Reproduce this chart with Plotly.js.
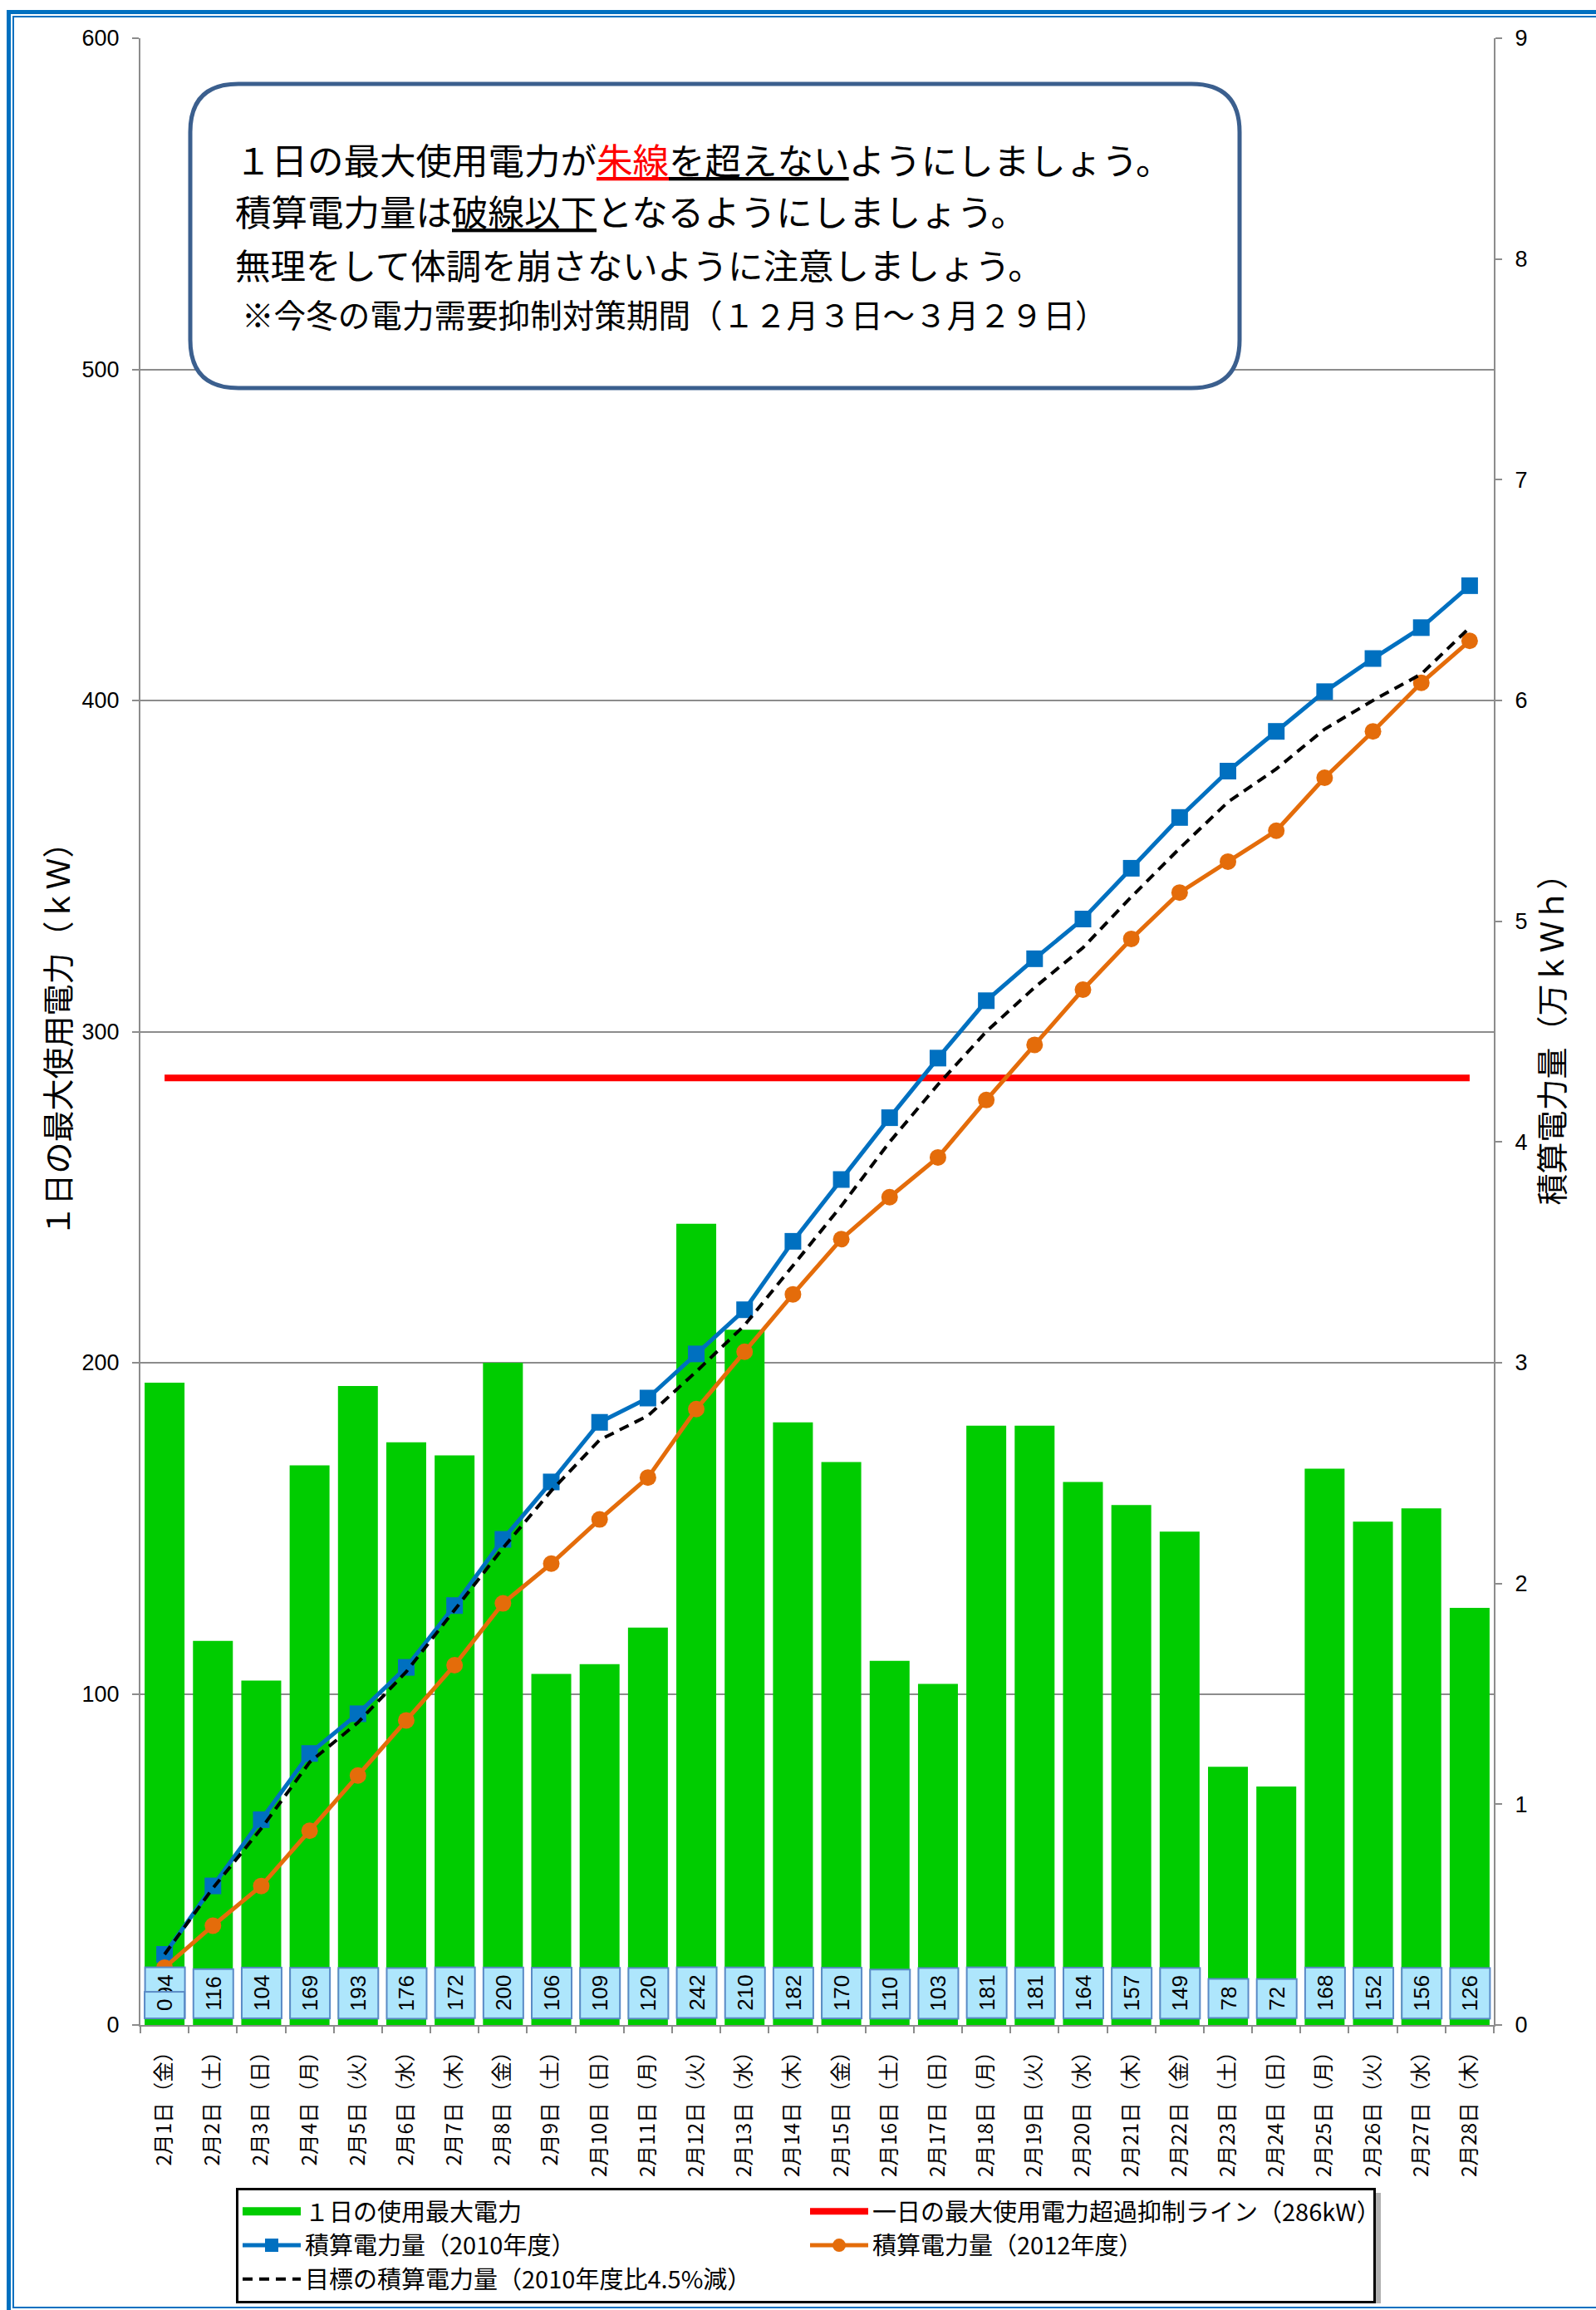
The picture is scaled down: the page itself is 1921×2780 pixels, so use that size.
<!DOCTYPE html>
<html>
<head>
<meta charset="utf-8">
<script src="https://cdn.plot.ly/plotly-3.0.1.min.js"></script>
<style>
  html, body { margin:0; padding:0; background:#ffffff; }
  #chart { width:1921px; height:2780px; }
</style>
</head>
<body>
<div id="chart"></div>
<script>
// ---------------- data ----------------
const dates = [
  "2月1日（金）","2月2日（土）","2月3日（日）","2月4日（月）","2月5日（火）","2月6日（水）","2月7日（木）",
  "2月8日（金）","2月9日（土）","2月10日（日）","2月11日（月）","2月12日（火）","2月13日（水）","2月14日（木）",
  "2月15日（金）","2月16日（土）","2月17日（日）","2月18日（月）","2月19日（火）","2月20日（水）","2月21日（木）",
  "2月22日（金）","2月23日（土）","2月24日（日）","2月25日（月）","2月26日（火）","2月27日（水）","2月28日（木）"
];
const dailyPeak = [194,116,104,169,193,176,172,200,106,109,120,242,210,182,170,110,103,181,181,164,157,149,78,72,168,152,156,126];
const limitLine = [286,286,286,286,286,286,286,286,286,286,286,286,286,286,286,286,286,286,286,286,286,286,286,286,286,286,286,286];
const cum2010 = [0.32,0.63,0.93,1.23,1.41,1.62,1.90,2.20,2.46,2.73,2.84,3.04,3.24,3.55,3.83,4.11,4.38,4.64,4.83,5.01,5.24,5.47,5.68,5.86,6.04,6.19,6.33,6.52];
const cum2012 = [0.26,0.45,0.63,0.88,1.13,1.38,1.63,1.91,2.09,2.29,2.48,2.79,3.05,3.31,3.56,3.75,3.93,4.19,4.44,4.69,4.92,5.13,5.27,5.41,5.65,5.86,6.08,6.27];
const target = [0.32,0.62,0.89,1.19,1.37,1.60,1.88,2.16,2.42,2.65,2.76,2.96,3.17,3.44,3.71,4.00,4.26,4.50,4.70,4.88,5.11,5.33,5.54,5.69,5.87,6.00,6.12,6.33];
const extraLabel = {index:0, text:"0"};

const seriesNames = {
  peak: "１日の使用最大電力",
  limit: "一日の最大使用電力超過抑制ライン（286kW）",
  c2010: "積算電力量（2010年度）",
  c2012: "積算電力量（2012年度）",
  target: "目標の積算電力量（2010年度比4.5%減）"
};
const yTitleLeft = "１日の最大使用電力（ｋＷ）";
const yTitleRight = "積算電力量（万ｋＷｈ）";
const noteLines = [
  '１日の最大使用電力が<span style="color:#ff0000"><u>朱線</u></span><u>を超えない</u>ようにしましょう。',
  '積算電力量は<u>破線以下</u>となるようにしましょう。',
  '無理をして体調を崩さないように注意しましょう。',
  '※今冬の電力需要抑制対策期間（１２月３日～３月２９日）'
];

// ---------------- geometry helpers (pixel -> paper) ----------------
const W = 1921, H = 2780;
const M = {l:169, r:123, t:46, b:343};
const PW = W - M.l - M.r, PH = H - M.t - M.b;
const px = v => (v - M.l) / PW;
const py = v => (H - M.b - v) / PH;

const JP = '"Noto Sans CJK JP", sans-serif';
const NUM = '"Liberation Sans", Arial, "Noto Sans CJK JP", sans-serif';

// ---------------- traces ----------------
const traces = [
  {
    type:'bar', x:dates, y:dailyPeak, name:seriesNames.peak, showlegend:false,
    marker:{color:'#00cc00', line:{width:0}}, hoverinfo:'skip', xaxis:'x', yaxis:'y'
  },
  {
    type:'scatter', mode:'lines', x:[null], y:[null], name:seriesNames.peak,
    line:{color:'#00cc00', width:16}, hoverinfo:'skip', xaxis:'x', yaxis:'y'
  },
  {
    type:'scatter', mode:'lines', x:dates, y:limitLine, name:seriesNames.limit,
    line:{color:'#ff0000', width:8}, hoverinfo:'skip', xaxis:'x', yaxis:'y'
  },
  {
    type:'scatter', mode:'lines+markers', x:dates, y:cum2010, name:seriesNames.c2010,
    line:{color:'#0070c0', width:5}, marker:{symbol:'square', size:20, color:'#0070c0'},
    hoverinfo:'skip', xaxis:'x', yaxis:'y2'
  },
  {
    type:'scatter', mode:'lines+markers', x:dates, y:cum2012, name:seriesNames.c2012,
    line:{color:'#e46c0a', width:5}, marker:{symbol:'circle', size:20, color:'#e46c0a'},
    hoverinfo:'skip', xaxis:'x', yaxis:'y2'
  },
  {
    type:'scatter', mode:'lines', x:dates, y:target, name:seriesNames.target,
    line:{color:'#000000', width:4, dash:'12px,8px'},
    hoverinfo:'skip', xaxis:'x', yaxis:'y2'
  }
];

// ---------------- annotations ----------------
const annotations = [];
const boxStyle = {
  xref:'x', yref:'y', y:0, showarrow:false, textangle:-90,
  yanchor:'bottom', xanchor:'center', yshift:7,
  bgcolor:'#aee6fc', bordercolor:'#5a8ac6', borderwidth:2, borderpad:8,
  font:{size:26, family:NUM, color:'#000000'}
};
dailyPeak.forEach((v, i) => {
  annotations.push(Object.assign({}, boxStyle, {x:dates[i], text:String(v)}));
});
annotations.push(Object.assign({}, boxStyle, {x:dates[extraLabel.index], text:extraLabel.text}));

const noteY = [191, 254, 317, 377];
const noteSize = [43.5, 43.5, 42.5, 38.6];
const noteX = [281, 281, 281, 289];
noteLines.forEach((t, i) => {
  annotations.push({
    xref:'paper', yref:'paper', x:px(noteX[i]), y:py(noteY[i]),
    xanchor:'left', yanchor:'middle', showarrow:false, align:'left',
    text:t, font:{size:noteSize[i], family:JP, color:'#000000'}
  });
});

// ---------------- shapes ----------------
const bL = px(229), bR = px(1492), bT = py(101), bB = py(467);
const rx = 58 / PW, ry = 58 / PH;
const boxPath =
  `M ${bL+rx},${bT} L ${bR-rx},${bT} Q ${bR},${bT} ${bR},${bT-ry} ` +
  `L ${bR},${bB+ry} Q ${bR},${bB} ${bR-rx},${bB} ` +
  `L ${bL+rx},${bB} Q ${bL},${bB} ${bL},${bB+ry} ` +
  `L ${bL},${bT-ry} Q ${bL},${bT} ${bL+rx},${bT} Z`;

const shapes = [
  // outer frame (double blue line)
  {type:'rect', xref:'paper', yref:'paper', x0:px(10.5), x1:px(1940), y0:py(14.5), y1:py(2795),
   line:{color:'#0070c0', width:5}, fillcolor:'rgba(0,0,0,0)', layer:'below'},
  {type:'rect', xref:'paper', yref:'paper', x0:px(16), x1:px(1930), y0:py(20), y1:py(2777),
   line:{color:'#0070c0', width:2}, fillcolor:'rgba(0,0,0,0)', layer:'below'},
  // note box
  {type:'path', xref:'paper', yref:'paper', path:boxPath,
   line:{color:'#3b5f8e', width:5}, fillcolor:'#ffffff', layer:'above'},
  // legend shadow
  {type:'rect', xref:'paper', yref:'paper', x0:px(290), x1:px(1662), y0:py(2639), y1:py(2772),
   line:{width:0}, fillcolor:'rgba(80,80,80,0.45)', layer:'above'}
];

// ---------------- layout ----------------
const axisGray = '#8c8c8c';
const layout = {
  width:W, height:H,
  margin:{l:M.l, r:M.r, t:M.t, b:M.b, autoexpand:false},
  paper_bgcolor:'#ffffff', plot_bgcolor:'#ffffff',
  bargap:0.175,
  showlegend:true,
  hovermode:false,
  legend:{
    orientation:'h', x:px(284), y:py(2633), xanchor:'left', yanchor:'top',
    bgcolor:'#ffffff', bordercolor:'#000000', borderwidth:3,
    font:{size:29, family:JP, color:'#000000'},
    itemwidth:70, entrywidth:598, entrywidthmode:'pixels', traceorder:'normal'
  },
  xaxis:{
    type:'category', range:[-0.5, 27.5], automargin:false,
    tickangle:-90, tickfont:{size:24.5, family:JP, color:'#000000'},
    ticks:'outside', tickson:'boundaries', ticklen:8, tickwidth:2, tickcolor:axisGray,
    showline:true, linecolor:axisGray, linewidth:2, showgrid:false, zeroline:false,
    ticklabelstandoff:8
  },
  yaxis:{
    range:[0, 600], tick0:0, dtick:100, automargin:false,
    showgrid:true, gridcolor:axisGray, gridwidth:2, zeroline:false,
    showline:true, linecolor:axisGray, linewidth:2,
    ticks:'outside', ticklen:8, tickwidth:2, tickcolor:axisGray,
    tickfont:{size:27, family:NUM, color:'#000000'}, ticklabelstandoff:10,
    title:{text:yTitleLeft, font:{size:38, family:JP, color:'#000000'}, standoff:2}
  },
  yaxis2:{
    overlaying:'y', side:'right', range:[0, 9], tick0:0, dtick:1, automargin:false,
    showgrid:false, zeroline:false,
    showline:true, linecolor:axisGray, linewidth:2,
    ticks:'outside', ticklen:8, tickwidth:2, tickcolor:axisGray,
    tickfont:{size:27, family:NUM, color:'#000000'}, ticklabelstandoff:10,
    title:{text:yTitleRight, font:{size:38, family:JP, color:'#000000'}, standoff:14}
  },
  annotations:annotations,
  shapes:shapes
};

Plotly.newPlot('chart', traces, layout, {staticPlot:true, displayModeBar:false});
</script>
</body>
</html>
